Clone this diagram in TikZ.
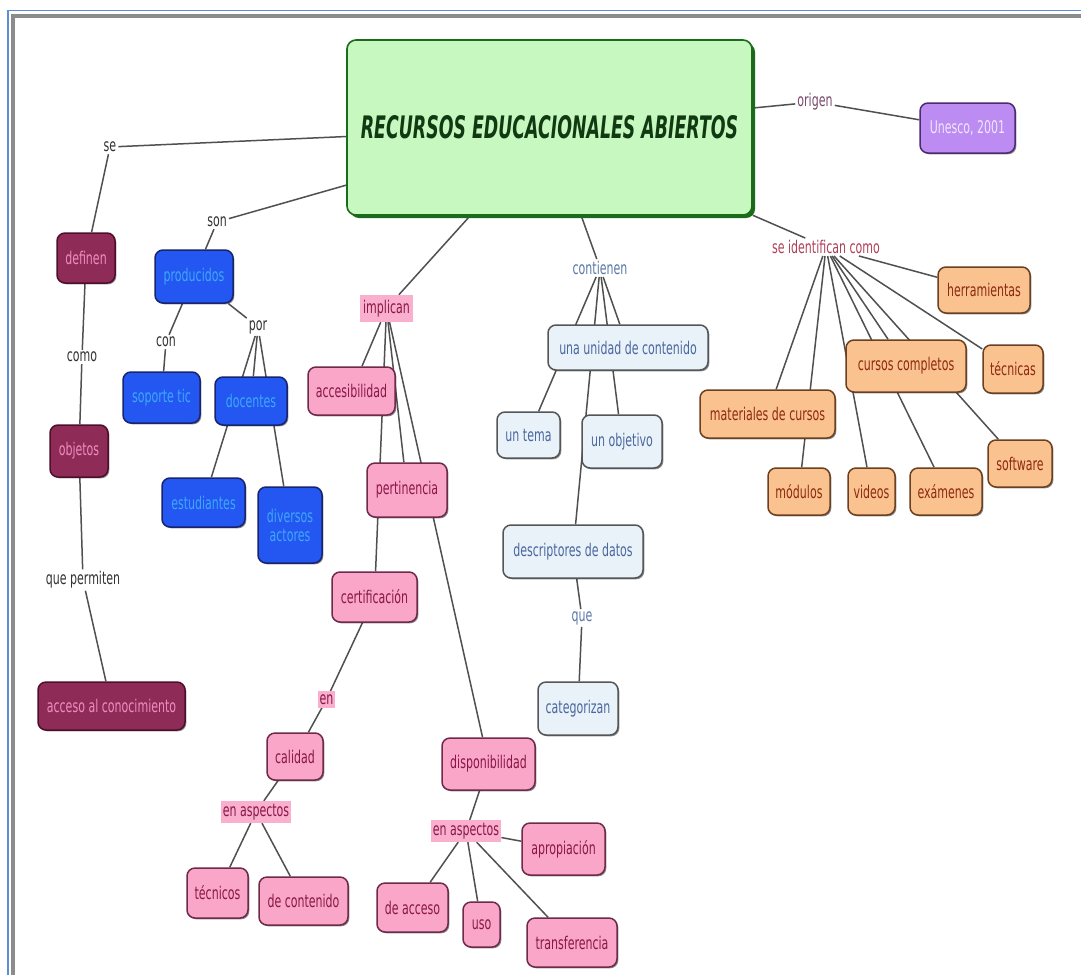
\documentclass[tikz,border=0pt]{standalone}
\usepackage{fontspec}
\setmainfont{DejaVu Sans}[FakeStretch=0.63]
\newfontfamily\titlefont{DejaVu Sans}[FakeStretch=0.56]
\usetikzlibrary{backgrounds,shadows}

\definecolor{linegray}{HTML}{505050}
\definecolor{darktext}{HTML}{333333}
\definecolor{maroonfill}{HTML}{8E2B57}
\definecolor{maroonline}{HTML}{4F0F2C}
\definecolor{maroontext}{HTML}{F08CBE}
\definecolor{bluefill}{HTML}{2456F2}
\definecolor{blueline}{HTML}{18246E}
\definecolor{bluetext}{HTML}{3DA8F7}
\definecolor{pinkfill}{HTML}{F9A6C9}
\definecolor{pinkline}{HTML}{6E2A48}
\definecolor{pinktext}{HTML}{8A1747}
\definecolor{orangefill}{HTML}{FAC28E}
\definecolor{orangeline}{HTML}{6B4020}
\definecolor{orangetext}{HTML}{8E2A12}
\definecolor{palefill}{HTML}{E9F1F9}
\definecolor{paleline}{HTML}{555555}
\definecolor{paletext}{HTML}{4A689E}
\definecolor{purplefill}{HTML}{BC8CF2}
\definecolor{purpleline}{HTML}{4F2A70}
\definecolor{purpletext}{HTML}{F0E6FF}
\definecolor{greenfill}{HTML}{C6F8C0}
\definecolor{greenline}{HTML}{1C6A1C}
\definecolor{titletext}{HTML}{123A12}
\definecolor{framegray}{HTML}{8C8C8C}
\definecolor{frameblue}{HTML}{5B8ED6}
\definecolor{origentext}{HTML}{7A4A6E}
\definecolor{seidtext}{HTML}{B0405A}
\definecolor{contentext}{HTML}{5A78A8}

\tikzset{
  concept/.style={rounded corners=8pt, draw, line width=1.5pt, inner sep=2pt,
    align=center, font=\fontsize{17.5}{19}\selectfont,
    drop shadow={shadow xshift=1.3pt, shadow yshift=-1.3pt, opacity=0.45, fill=black}},
  maroonbox/.style={concept, fill=maroonfill, draw=maroonline, text=maroontext},
  bluebox/.style={concept, fill=bluefill, draw=blueline, text=bluetext},
  pinkbox/.style={concept, fill=pinkfill, draw=pinkline, text=pinktext},
  orangebox/.style={concept, fill=orangefill, draw=orangeline, text=orangetext},
  palebox/.style={concept, fill=palefill, draw=paleline, text=paletext},
  purplebox/.style={concept, fill=purplefill, draw=purpleline, text=purpletext},
  mainbox/.style={rounded corners=9pt, draw=greenline, line width=1.6pt, fill=greenfill,
    text=titletext, font=\titlefont\fontsize{31}{34}\selectfont\bfseries\itshape,
    drop shadow={shadow xshift=3pt, shadow yshift=-3pt, opacity=1, fill=greenline}},
  link/.style={inner sep=2pt, font=\fontsize{17.5}{19}\selectfont, text=darktext},
  pinklink/.style={link, fill=pinkfill!90, text=pinktext, inner xsep=2pt, inner ysep=3pt},
  edge/.style={draw=linegray, line width=1.5pt}
}

\begin{document}
\begin{tikzpicture}[x=1pt, y=-1pt]
\path[use as bounding box] (0,0) rectangle (1081,975);

% central concept
\node[mainbox, minimum width=405, minimum height=175] (rea) at (549.5,127.5)
  {RECURSOS EDUCACIONALES ABIERTOS};

% left branch: definition
\node[link] (se) at (110,147) {se};
\node[maroonbox, minimum width=58, minimum height=50] (definen) at (86,258) {definen};
\node[link] (como) at (82,357) {como};
\node[maroonbox, minimum width=58, minimum height=52] (objetos) at (79,451) {objetos};
\node[link] (qp) at (83,580) {que permiten};
\node[maroonbox, minimum width=147, minimum height=48] (acceso) at (111.5,706) {acceso al conocimiento};

% producers
\node[link] (son) at (217,222) {son};
\node[bluebox, minimum width=78, minimum height=53] (producidos) at (194,276.5) {producidos};
\node[link] (con) at (166,342) {con};
\node[link] (por) at (258,327) {por};
\node[bluebox, minimum width=77, minimum height=51] (soporte) at (161.5,397.5) {soporte tic};
\node[bluebox, minimum width=72, minimum height=48] (docentes) at (251,401) {docentes};
\node[bluebox, minimum width=83, minimum height=49] (estudiantes) at (203.5,502.5) {estudiantes};
\node[bluebox, minimum width=64, minimum height=76] (diversos) at (290,525) {diversos\\actores};

% implications
\node[pinklink, minimum width=53, minimum height=27] (implican) at (386.5,308.5) {implican};
\node[pinkbox, minimum width=87, minimum height=48] (accesibilidad) at (351.5,391) {accesibilidad};
\node[pinkbox, minimum width=80, minimum height=54] (pertinencia) at (407,490) {pertinencia};
\node[pinkbox, minimum width=85, minimum height=50] (certificacion) at (374.5,597) {certificación};
\node[pinklink] (en) at (326.5,699.5) {en};
\node[pinkbox, minimum width=56, minimum height=47] (calidad) at (295,756.5) {calidad};
\node[pinklink] (aspL) at (256,812) {en aspectos};
\node[pinkbox, minimum width=61, minimum height=50] (tecnicos) at (217.5,893) {técnicos};
\node[pinkbox, minimum width=89, minimum height=48] (contenido) at (303.5,901) {de contenido};
\node[pinkbox, minimum width=93, minimum height=52] (disponibilidad) at (488.5,764) {disponibilidad};
\node[pinklink] (aspR) at (466,831) {en aspectos};
\node[pinkbox, minimum width=83, minimum height=52] (apropiacion) at (563.5,849) {apropiación};
\node[pinkbox, minimum width=71, minimum height=49] (deacceso) at (412.5,907.5) {de acceso};
\node[pinkbox, minimum width=37, minimum height=45] (uso) at (481.5,924.5) {uso};
\node[pinkbox, minimum width=90, minimum height=49] (transferencia) at (572,942.5) {transferencia};

% contents
\node[link, text=contentext] (contienen) at (600,268) {contienen};
\node[palebox, minimum width=160, minimum height=45] (unidad) at (628,347.5) {una unidad de contenido};
\node[palebox, minimum width=63, minimum height=46] (tema) at (528.5,435) {un tema};
\node[palebox, minimum width=80, minimum height=53] (objetivo) at (622,441.5) {un objetivo};
\node[palebox, minimum width=140, minimum height=53] (descriptores) at (573,551.5) {descriptores de datos};
\node[link, text=contentext] (que) at (582,618) {que};
\node[palebox, minimum width=80, minimum height=53] (categorizan) at (578,708.5) {categorizan};

% origin
\node[link, text=origentext] (origen) at (815,102) {origen};
\node[purplebox, minimum width=95, minimum height=50] (unesco) at (967.5,128) {Unesco, 2001};

% identified as
\node[link, text=seidtext] (seid) at (826,247) {se identifican como};
\node[orangebox, minimum width=92, minimum height=46] (herramientas) at (984,290) {herramientas};
\node[orangebox, minimum width=60, minimum height=48] (tecnicas) at (1013,369) {técnicas};
\node[orangebox, minimum width=120, minimum height=52] (cursos) at (906,366) {cursos completos};
\node[orangebox, minimum width=135, minimum height=48] (materiales) at (767.5,414) {materiales de cursos};
\node[orangebox, minimum width=64, minimum height=47] (software) at (1020,463.5) {software};
\node[orangebox, minimum width=62, minimum height=47] (modulos) at (799,491.5) {módulos};
\node[orangebox, minimum width=47, minimum height=47] (videos) at (871.5,491.5) {videos};
\node[orangebox, minimum width=72, minimum height=47] (examenes) at (946,491.5) {exámenes};

% page, frame and connectors, all kept behind the concepts
\begin{scope}[on background layer]
  \fill[white] (0,0) rectangle (1081,975);
  \draw[framegray, line width=4pt] (12.5,975) -- (12.5,15.5) -- (1081,15.5);
  \draw[frameblue, line width=1.2pt] (8,975) -- (8,10.5) -- (1081,10.5);

  \draw[edge] (rea) -- (se);
  \draw[edge] (se) -- (definen);
  \draw[edge] (definen) -- (como);
  \draw[edge] (como) -- (objetos);
  \draw[edge] (objetos) -- (qp);
  \draw[edge] (qp) -- (acceso);

  \draw[edge] (rea) -- (son);
  \draw[edge] (son) -- (producidos);
  \draw[edge] (producidos) -- (con);
  \draw[edge] (con) -- (soporte);
  \draw[edge] (producidos) -- (por);
  \draw[edge] (por) -- (docentes);
  \draw[edge] (por) -- (estudiantes);
  \draw[edge] (por) -- (diversos);

  \draw[edge] (rea) -- (implican);
  \draw[edge] (implican) -- (accesibilidad);
  \draw[edge] (implican) -- (certificacion);
  \draw[edge] (implican) -- (pertinencia);
  \draw[edge] (implican) -- (disponibilidad);
  \draw[edge] (certificacion) -- (en);
  \draw[edge] (en) -- (calidad);
  \draw[edge] (calidad) -- (aspL);
  \draw[edge] (aspL) -- (tecnicos);
  \draw[edge] (aspL) -- (contenido);
  \draw[edge] (disponibilidad) -- (aspR);
  \draw[edge] (aspR) -- (apropiacion);
  \draw[edge] (aspR) -- (deacceso);
  \draw[edge] (aspR) -- (uso);
  \draw[edge] (aspR) -- (transferencia);

  \draw[edge] (rea) -- (contienen);
  \draw[edge] (contienen) -- (unidad);
  \draw[edge] (contienen) -- (tema);
  \draw[edge] (contienen) -- (objetivo);
  \draw[edge] (contienen) -- (descriptores);
  \draw[edge] (descriptores) -- (que);
  \draw[edge] (que) -- (categorizan);

  \draw[edge] (rea) -- (origen);
  \draw[edge] (origen) -- (unesco);

  \draw[edge] (rea) -- (seid);
  \draw[edge] (seid) -- (herramientas);
  \draw[edge] (seid) -- (tecnicas);
  \draw[edge] (seid) -- (cursos);
  \draw[edge] (seid) -- (materiales);
  \draw[edge] (seid) -- (modulos);
  \draw[edge] (seid) -- (videos);
  \draw[edge] (seid) -- (examenes);
  \draw[edge] (seid) -- (software);
\end{scope}
\end{tikzpicture}
\end{document}
